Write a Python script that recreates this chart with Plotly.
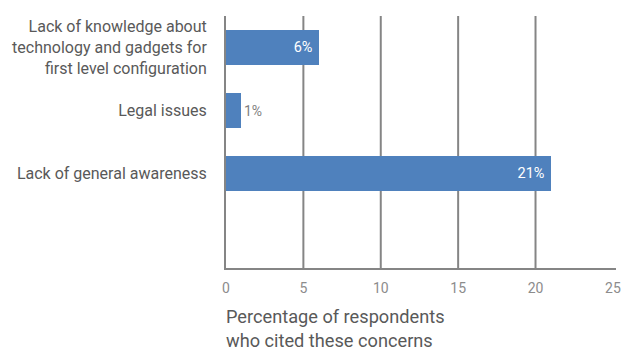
import plotly.graph_objects as go

# Survey concerns and share of respondents citing each (percent)
categories = [
    "Lack of knowledge about<br>technology and gadgets for<br>first level configuration",
    "Legal issues",
    "Lack of general awareness",
]
values = [6, 1, 21]
x_ticks = [0, 5, 10, 15, 20, 25]
grid_vals = [5, 10, 15, 20]

positions = list(range(len(categories)))
labels = [f"{v}%" for v in values]
text_pos = ["inside" if v >= 3 else "outside" for v in values]

FONT = "Roboto, Lato, 'Open Sans', sans-serif"
TEXT_GRAY = "#595959"
AXIS_GRAY = "#858585"

fig = go.Figure()
fig.add_trace(go.Bar(
    x=values,
    y=positions,
    orientation="h",
    width=0.56,
    marker=dict(color="#4f81bd", line=dict(width=0)),
    text=labels,
    texttemplate=["%{text}\u00a0" if p == "inside" else "%{text}" for p in text_pos],
    textposition=text_pos,
    insidetextanchor="end",
    insidetextfont=dict(color="white", size=14.5, family=FONT),
    outsidetextfont=dict(color="#7f7f7f", size=14, family=FONT),
    cliponaxis=False,
    hoverinfo="skip",
))

# vertical gridlines (no line at the right end of the scale)
for g in grid_vals:
    fig.add_shape(type="line", xref="x", yref="paper", x0=g, x1=g, y0=0, y1=1,
                  line=dict(color=AXIS_GRAY, width=2), layer="below")

fig.add_annotation(
    text="Percentage of respondents<br>who cited these concerns",
    xref="paper", yref="paper", x=-0.005, y=-0.142,
    xanchor="left", yanchor="top", align="left", showarrow=False,
    font=dict(family=FONT, size=18.2, color=TEXT_GRAY),
)

fig.update_layout(
    width=627, height=352,
    margin=dict(l=226, r=6, t=16, b=84),
    paper_bgcolor="white", plot_bgcolor="white",
    showlegend=False,
    bargap=0,
    font=dict(family=FONT, color=TEXT_GRAY),
    xaxis=dict(
        range=[0, 25.2], tickvals=x_ticks, ticktext=[str(t) for t in x_ticks],
        showgrid=False, zeroline=False,
        showline=True, linecolor=AXIS_GRAY, linewidth=2,
        ticks="", tickfont=dict(size=14, color="#8c8c8c", family=FONT),
        ticklabelstandoff=6,
    ),
    yaxis=dict(
        range=[3.5, -0.5], tickvals=positions, ticktext=categories,
        showgrid=False, zeroline=False,
        showline=True, linecolor=AXIS_GRAY, linewidth=2,
        ticks="", ticklabelstandoff=14,
        tickfont=dict(size=16, color=TEXT_GRAY, family=FONT),
    ),
)

fig.write_html("out.html")
